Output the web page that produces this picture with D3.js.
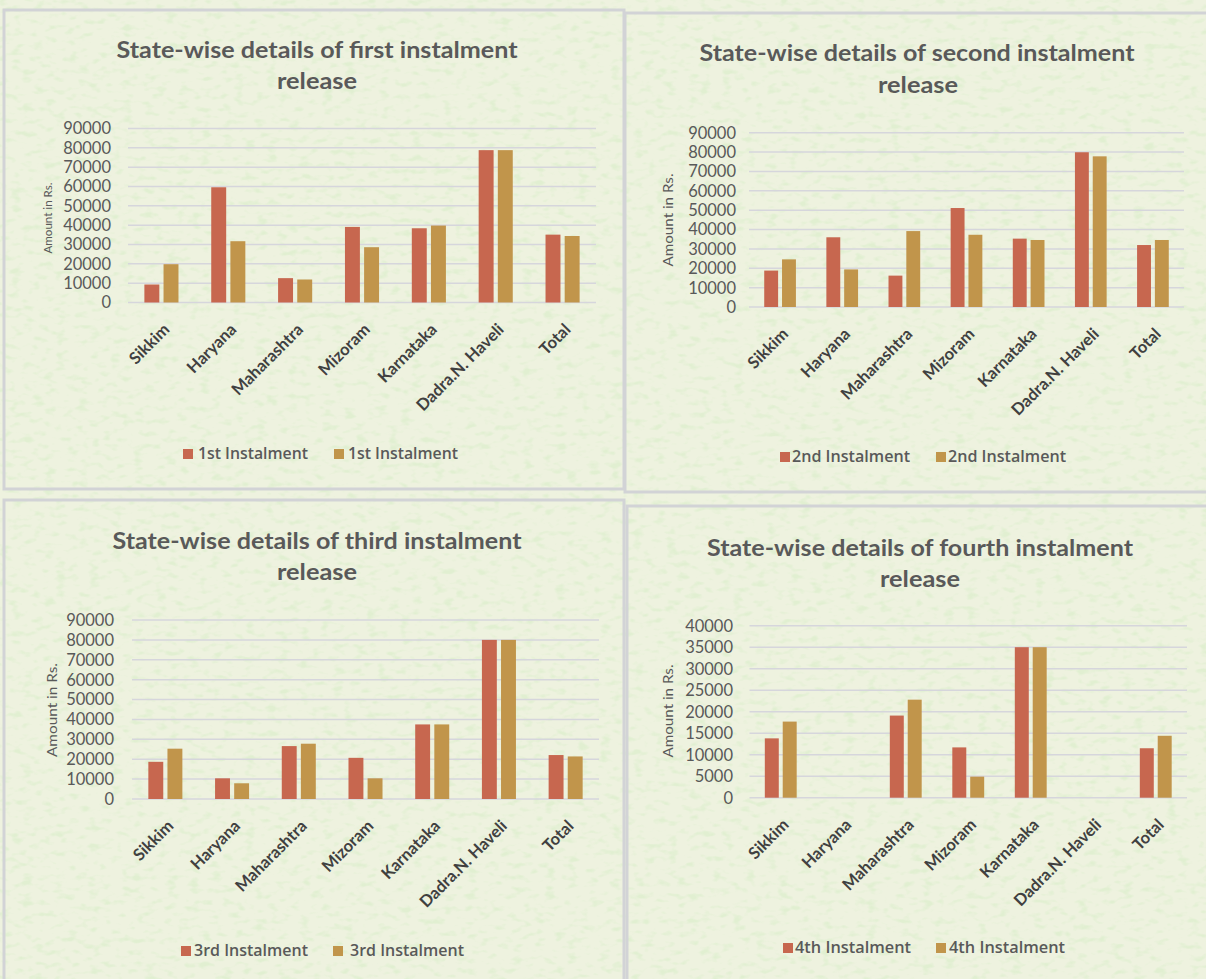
<!DOCTYPE html>
<html>
<head>
<meta charset="utf-8">
<script src="https://cdn.jsdelivr.net/npm/d3@7/dist/d3.min.js"></script>
<style>
  html, body { margin: 0; padding: 0; background: #eef2df; }
  svg { display: block; }
</style>
</head>
<body>
<svg id="chart" width="1206" height="979"></svg>
<script>
// ---- data ----
const states = ["Sikkim", "Haryana", "Maharashtra", "Mizoram", "Karnataka", "Dadra.N. Haveli", "Total"];

const firstA  = [9300, 59600, 12600, 39100, 38400, 78800, 35100];
const firstB  = [19800, 31700, 11900, 28600, 39800, 78800, 34400];

const secondA = [18800, 36000, 16200, 51100, 35300, 79900, 32000];
const secondB = [24600, 19400, 39200, 37300, 34600, 77800, 34600];

const thirdA  = [18700, 10400, 26600, 20700, 37500, 80000, 22100];
const thirdB  = [25300, 7900, 27800, 10400, 37500, 80000, 21400];

const fourthA = [13800, 0, 19100, 11700, 35000, 0, 11500];
const fourthB = [17700, 0, 22800, 4900, 35000, 0, 14400];

const ticks90k = [0, 10000, 20000, 30000, 40000, 50000, 60000, 70000, 80000, 90000];
const ticks40k = [0, 5000, 10000, 15000, 20000, 25000, 30000, 35000, 40000];

const titles = [
  ["State-wise details of first instalment", "release"],
  ["State-wise details of second instalment", "release"],
  ["State-wise details of third instalment", "release"],
  ["State-wise details of fourth instalment", "release"]
];
const seriesNames = ["1st Instalment", "2nd Instalment", "3rd Instalment", "4th Instalment"];
const yTitle = "Amount in Rs.";

// ---- look ----
const RED = "#c7674f";
const GOLD = "#c1954b";
const GRID = "#d6d6dc";
const TXT = "#595959";
const LBL = "#404040";

// panel frames and inner geometry
const panels = [
  { frame: [4, 10, 620, 479], t1: [317, 58, 401], t2: [317, 89, 80],
    plot: [128, 596, 128.5, 302.5], ticks: ticks90k, max: 90000, tickX: 111,
    yt: { x: 48, y: 218, size: 10.5, len: 71 }, a: firstA, b: firstB, name: seriesNames[0],
    leg: { y: 454, sq: [183, 334], tx: [198, 348], len: 110 } },
  { frame: [625, 13, 590, 479], t1: [917, 61, 435], t2: [918, 93, 80],
    plot: [749, 1184, 132.7, 307], ticks: ticks90k, max: 90000, tickX: 736,
    yt: { x: 668, y: 220, size: 14, len: 93 }, a: secondA, b: secondB, name: seriesNames[1],
    leg: { y: 457, sq: [780, 936], tx: [792, 948], len: 118 } },
  { frame: [4, 500, 620, 490], t1: [317, 549, 409], t2: [317, 580, 80],
    plot: [132, 599, 620, 799], ticks: ticks90k, max: 90000, tickX: 114,
    yt: { x: 52, y: 710, size: 14, len: 94 }, a: thirdA, b: thirdB, name: seriesNames[2],
    leg: { y: 951, sq: [181, 333], tx: [194, 350], len: 114 } },
  { frame: [627, 506, 590, 490], t1: [920, 556, 426], t2: [920, 587, 80],
    plot: [749.5, 1187, 625.7, 797.7], ticks: ticks40k, max: 40000, tickX: 733,
    yt: { x: 668, y: 711, size: 14, len: 93 }, a: fourthA, b: fourthB, name: seriesNames[3],
    leg: { y: 948, sq: [783, 936], tx: [795, 949], len: 116 } }
];

const svg = d3.select("#chart");

// paper texture: fine green speckle
const defs = svg.append("defs");
const f = defs.append("filter").attr("id", "paper")
  .attr("x", 0).attr("y", 0).attr("width", "100%").attr("height", "100%");
f.append("feTurbulence").attr("type", "fractalNoise")
  .attr("baseFrequency", "0.09 0.16").attr("numOctaves", 2).attr("seed", 11);
f.append("feColorMatrix").attr("type", "matrix")
  .attr("values", "0 0 0 0 0.55  0 0 0 0 0.82  0 0 0 0 0.45  4 0 0 0 -2.1");

svg.append("rect").attr("width", 1206).attr("height", 979).attr("fill", "#eef2df");
svg.append("rect").attr("width", 1206).attr("height", 979)
  .attr("filter", "url(#paper)").attr("opacity", 0.3);

panels.forEach((p, i) => {
  const g = svg.append("g");

  // frame
  g.append("rect")
    .attr("x", p.frame[0]).attr("y", p.frame[1])
    .attr("width", p.frame[2]).attr("height", p.frame[3])
    .attr("fill", "none").attr("stroke", "#d2d3d6").attr("stroke-width", 3);

  // title
  const tFont = "Lato, 'Open Sans', sans-serif";
  [[titles[i][0], p.t1], [titles[i][1], p.t2]].forEach(([txt, pos]) => {
    g.append("text").text(txt)
      .attr("x", pos[0]).attr("y", pos[1])
      .attr("text-anchor", "middle")
      .attr("font-family", tFont).attr("font-weight", 700).attr("font-size", 22)
      .attr("fill", TXT)
      .attr("textLength", pos[2]).attr("lengthAdjust", "spacingAndGlyphs");
  });

  const [x0, x1, yTop, yBot] = p.plot;
  const y = d3.scaleLinear().domain([0, p.max]).range([yBot, yTop]);
  const x = d3.scaleBand().domain(states).range([x0, x1]).padding(0);
  const bw = x.bandwidth();
  const groupW = bw * 0.51;
  const sub = d3.scaleBand().domain(["a", "b"]).range([0, groupW]).paddingInner(0.22);

  // gridlines
  g.append("g").selectAll("line").data(p.ticks).join("line")
    .attr("x1", x0).attr("x2", x1)
    .attr("y1", d => y(d)).attr("y2", d => y(d))
    .attr("stroke", GRID).attr("stroke-width", 1.5);

  // y tick labels
  g.append("g").selectAll("text").data(p.ticks).join("text")
    .attr("x", p.tickX).attr("y", d => y(d)).attr("dy", "0.36em")
    .attr("text-anchor", "end")
    .attr("font-family", "Lato, sans-serif").attr("font-size", 16.5)
    .attr("fill", TXT)
    .text(d => d);

  // y axis title
  g.append("text").text(yTitle)
    .attr("transform", `translate(${p.yt.x},${p.yt.y}) rotate(-90)`)
    .attr("text-anchor", "middle").attr("dy", "0.35em")
    .attr("font-family", "Lato, sans-serif").attr("font-size", p.yt.size)
    .attr("fill", TXT)
    .attr("textLength", p.yt.len).attr("lengthAdjust", "spacingAndGlyphs");

  // bars
  const rows = states.map((s, k) => ({ s, a: p.a[k], b: p.b[k] }));
  const grp = g.append("g").selectAll("g").data(rows).join("g")
    .attr("transform", d => `translate(${x(d.s) + (bw - groupW) / 2},0)`);
  grp.selectAll("rect").data(d => [{ k: "a", v: d.a }, { k: "b", v: d.b }]).join("rect")
    .attr("x", d => sub(d.k)).attr("width", sub.bandwidth())
    .attr("y", d => y(d.v)).attr("height", d => yBot - y(d.v))
    .attr("fill", d => d.k === "a" ? RED : GOLD);

  // category labels
  const ax = g.append("g").attr("transform", `translate(0,${yBot})`)
    .call(d3.axisBottom(x).tickSize(0).tickPadding(0));
  ax.select(".domain").remove();
  ax.selectAll("text")
    .attr("x", 0).attr("y", 0).attr("dy", "0.35em")
    .attr("transform", "translate(5,24) rotate(-45)")
    .attr("text-anchor", "end")
    .attr("font-family", "Lato, sans-serif").attr("font-weight", 700).attr("font-size", 16.5)
    .attr("fill", LBL);

  // legend
  [RED, GOLD].forEach((c, k) => {
    g.append("rect").attr("x", p.leg.sq[k]).attr("y", p.leg.y - 5)
      .attr("width", 10).attr("height", 10).attr("fill", c);
    g.append("text").text(p.name)
      .attr("x", p.leg.tx[k]).attr("y", p.leg.y).attr("dy", "0.35em")
      .attr("font-family", "'Open Sans', sans-serif").attr("font-weight", 600)
      .attr("font-size", 15.5).attr("fill", TXT)
      .attr("textLength", p.leg.len).attr("lengthAdjust", "spacingAndGlyphs");
  });
});
</script>
</body>
</html>
